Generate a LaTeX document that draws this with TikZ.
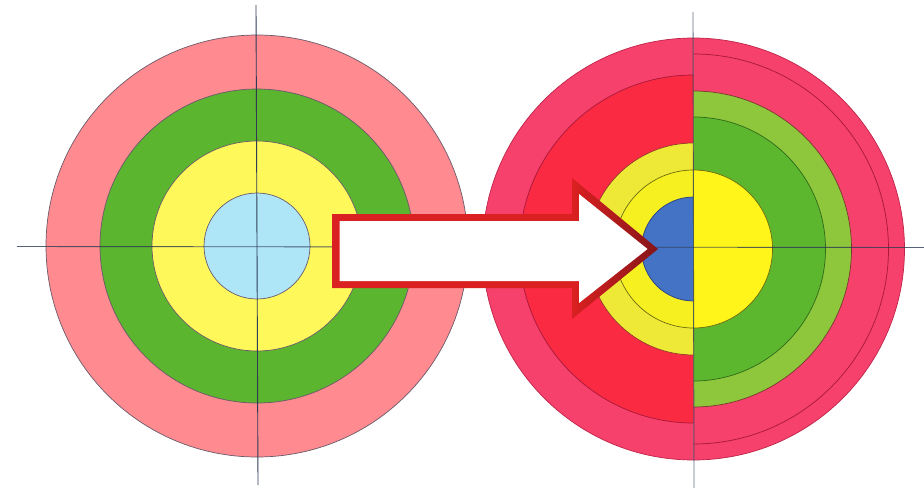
\documentclass[tikz,border=0pt]{standalone}
\definecolor{lpink}{HTML}{FF8A8F}
\definecolor{lgreen}{HTML}{5BB52F}
\definecolor{lyellow}{HTML}{FFF85A}
\definecolor{lblue}{HTML}{AEE6F8}
\definecolor{ledge}{HTML}{6A5A6A}
\definecolor{rpink}{HTML}{F5416C}
\definecolor{rred}{HTML}{FB2A43}
\definecolor{rdark}{HTML}{A8183A}
\definecolor{ryelA}{HTML}{EEE936}
\definecolor{ryelB}{HTML}{F6F020}
\definecolor{rblue}{HTML}{4472C4}
\definecolor{rnavy}{HTML}{2A3F80}
\definecolor{rlgreen}{HTML}{8EC63C}
\definecolor{rgreen}{HTML}{5CB62E}
\definecolor{rdkgreen}{HTML}{2F6A1A}
\definecolor{ryellow}{HTML}{FFF51A}
\definecolor{olive}{HTML}{6E6A10}
\definecolor{axisc}{HTML}{2F3B55}
\definecolor{ared}{HTML}{DA2020}
\definecolor{adark}{HTML}{7E1418}
\pgfdeclarehorizontalshading{arrowshade}{100bp}{color(0bp)=(ared); color(62bp)=(ared); color(76bp)=(adark); color(100bp)=(adark)}
\begin{document}
\begin{tikzpicture}[x=1pt,y=-1pt,
  ringline/.style={line width=0.7pt},
  axisline/.style={draw=axisc,line width=0.9pt}]
\useasboundingbox (0,0) rectangle (924,488);
\fill[white] (0,0) rectangle (924,488);
\coordinate (L) at (257,246);
\coordinate (R) at (693.5,249);
% left target
\filldraw[fill=lpink,draw=ledge,ringline] (L) circle[radius=211];
\filldraw[fill=lgreen,draw=ledge,ringline] (L) circle[radius=157];
\filldraw[fill=lyellow,draw=ledge,ringline] (L) circle[radius=105];
\filldraw[fill=lblue,draw=ledge,ringline] (L) circle[radius=53];
% right target, left half
\begin{scope}
\clip (470,0) rectangle (693.5,488);
\filldraw[fill=rpink,draw=rdark!70!rpink,ringline] (R) circle[radius=211];
\filldraw[fill=rred,draw=rdark,ringline] (R) circle[radius=174];
\filldraw[fill=ryelA,draw=rdark!60!olive,ringline] (R) circle[radius=106];
\filldraw[fill=ryelB,draw=olive,ringline] (R) circle[radius=79];
\filldraw[fill=rblue,draw=rnavy,ringline] (R) circle[radius=52];
\end{scope}
% right target, right half
\begin{scope}
\clip (693.5,0) rectangle (924,488);
\filldraw[fill=rpink,draw=rdark!70!rpink,ringline] (R) circle[radius=211];
\draw[draw=rdark,ringline] (R) circle[radius=195];
\filldraw[fill=rlgreen,draw=rdark!60!rdkgreen,ringline] (R) circle[radius=158];
\filldraw[fill=rgreen,draw=rdkgreen,ringline] (R) circle[radius=132];
\filldraw[fill=ryellow,draw=olive,ringline] (R) circle[radius=79];
\end{scope}
% axes
\coordinate (lv1) at (256,5);
\coordinate (lv2) at (258,485);
\coordinate (h1) at (17,246.5);
\coordinate (h2) at (924,247.5);
\coordinate (rv1) at (693,12);
\coordinate (rv2) at (694,488);
\draw[axisline] (lv1) -- (lv2);
\draw[axisline,opacity=0.8] (h1) -- (h2);
\draw[axisline,opacity=0.75] (rv1) -- (rv2);
% arrow
\shade[shading=arrowshade] (332,214) -- (572,214) -- (572,178) -- (658,249) -- (572,319) -- (572,288) -- (332,288) -- cycle;
\fill[white] (339.5,221) -- (579,221) -- (579,194) -- (647.5,249) -- (579,303) -- (579,281) -- (339.5,281) -- cycle;
\end{tikzpicture}
\end{document}
